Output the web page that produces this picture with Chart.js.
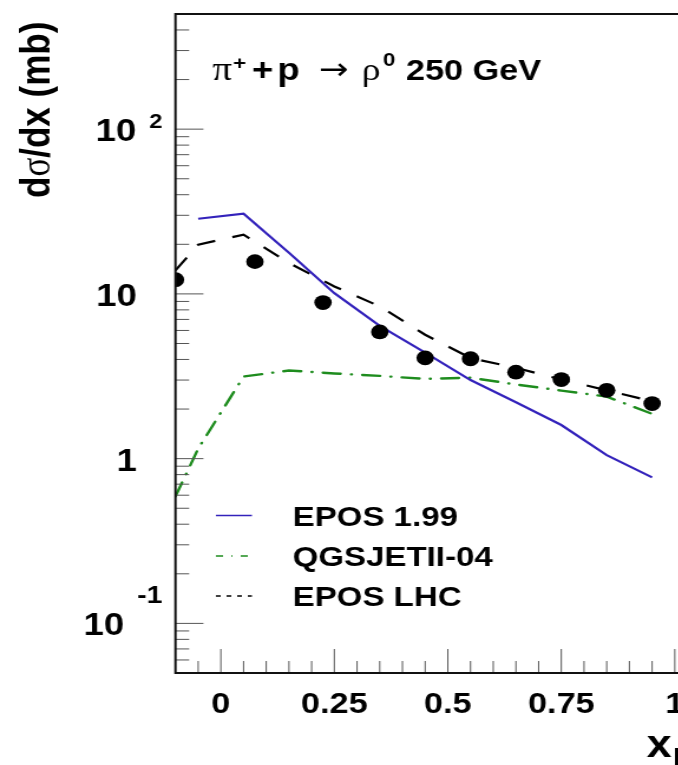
<!DOCTYPE html>
<html><head><meta charset="utf-8">
<script src="https://cdn.jsdelivr.net/npm/chart.js@4.4.1/dist/chart.umd.min.js"></script>
<style>
html,body{margin:0;padding:0;background:#fff;overflow:hidden;width:678px;height:765px;}
#wrap{position:absolute;left:0;top:0;width:600px;height:765px;transform:scaleX(1.18);transform-origin:0 0;}
canvas{display:block;}
</style></head><body>
<div id="wrap"><canvas id="c" width="600" height="765"></canvas></div>
<script>
// ---- data ----
const seriesNames = ['EPOS 1.99', 'QGSJETII-04', 'EPOS LHC'];
const modelX   = [-0.1, -0.05, 0.05, 0.15, 0.25, 0.35, 0.45, 0.55, 0.65, 0.75, 0.85, 0.95];
const epos199  = [null, 28.6, 30.7, 17.8, 10.1, 6.4, 4.4, 3.0, 2.2, 1.6, 1.05, 0.77];
const qgsjet   = [0.59, 1.15, 3.15, 3.43, 3.29, 3.18, 3.05, 3.1, 2.82, 2.59, 2.38, 1.87];
const eposLHC  = [13.9, 19.9, 22.9, 15.4, 11.1, 8.4, 5.65, 4.08, 3.56, 3.02, 2.6, 2.23];
const dataX    = [-0.1, 0.075, 0.225, 0.35, 0.45, 0.55, 0.65, 0.75, 0.85, 0.95];
const dataY    = [12.2, 15.7, 8.86, 5.88, 4.09, 4.04, 3.35, 3.02, 2.60, 2.16];
const xTickValues = [0, 0.25, 0.5, 0.75, 1];
const xTickLabels = ['0', '0.25', '0.5', '0.75', '1'];
const yTickValues = [100, 10, 1, 0.1];
const yTickBase   = ['10', '10', '1', '10'];
const yTickExp    = ['2', '', '', '-1'];
const yTitle = ['d', 'σ', '/dx (mb)'];
const xTitle = ['x', 'F'];
const annotation = ['π', '+', '+', 'p', '→', 'ρ', '0', '250 GeV'];

// ---- helpers ----
const SANS = '"Liberation Sans", Arial, Helvetica, sans-serif';
const SERIF = '"Liberation Serif", "Times New Roman", serif';
const xy = (xs, ys) => xs.map((x, i) => ({x: x, y: ys[i]})).filter(p => p.y != null);
const xMinor = []; for (let k = -1; k <= 21; k++) { const v = +(k * 0.05).toFixed(2); if (!xTickValues.includes(v)) xMinor.push(v); }
const yMinor = []; [0.01, 0.1, 1, 10, 100].forEach(d => { for (let m = 2; m <= 9; m++) yMinor.push(+(m * d).toPrecision(3)); });

const colors = ['#3322bb', '#1e8c1e', '#000000'];
const legendDash = [[], [6, 7, 1, 7], [4, 5]];

const rootPlugin = {
  id: 'rootStyle',
  afterDatasetsDraw(chart) {
    const {ctx, chartArea: a, scales: {x, y}} = chart;
    ctx.save();
    const seg = (x1, y1, x2, y2) => { ctx.beginPath(); ctx.moveTo(x1, y1); ctx.lineTo(x2, y2); ctx.stroke(); };
    // ticks (inward)
    ctx.strokeStyle = '#555'; ctx.lineWidth = 1;
    yMinor.forEach(v => { const p = y.getPixelForValue(v); if (p > a.top + 1 && p < a.bottom - 1) seg(a.left, p, a.left + 11.6, p); });
    yTickValues.forEach(v => { const p = y.getPixelForValue(v); seg(a.left, p, a.left + 23.7, p); });
    xMinor.forEach(v => { const p = x.getPixelForValue(v); if (p > a.left + 1 && p < a.right - 1) seg(p, a.bottom, p, a.bottom - 12); });
    xTickValues.forEach(v => { const p = x.getPixelForValue(v); seg(p, a.bottom, p, a.bottom - 24); });
    // frame
    ctx.strokeStyle = '#111'; ctx.lineWidth = 2;
    ctx.strokeRect(a.left, a.top, a.right - a.left, a.bottom - a.top);
    ctx.restore();
  },
  afterDraw(chart) {
    const {ctx, scales: {x, y}} = chart;
    ctx.save();
    ctx.fillStyle = '#000';
    ctx.textBaseline = 'alphabetic';
    // x tick labels
    ctx.font = 'bold 29px ' + SANS; ctx.textAlign = 'center';
    xTickValues.forEach((v, i) => ctx.fillText(xTickLabels[i], x.getPixelForValue(v), 713));
    // y tick labels
    yTickValues.forEach((v, i) => {
      const p = y.getPixelForValue(v);
      const e = yTickExp[i];
      if (!e) {
        ctx.font = 'bold 31px ' + SANS; ctx.textAlign = 'right';
        ctx.fillText(yTickBase[i], 116, p + 12);
      } else {
        const neg = e.startsWith('-');
        ctx.font = 'bold ' + (neg ? 24 : 20) + 'px ' + SANS; ctx.textAlign = 'right';
        const w = ctx.measureText(e).width;
        ctx.fillText(e, 137.5, neg ? p - 20 : p - 1);
        ctx.font = 'bold 31px ' + SANS;
        ctx.fillText(yTickBase[i], 137.5 - w - 11, p + 12);
      }
    });
    // y title (rotated)
    ctx.save();
    ctx.translate(42.4, 198); ctx.rotate(-Math.PI / 2); ctx.textAlign = 'left';
    let cx = 0;
    const yFonts = ['bold 35px ' + SANS, '35px ' + SERIF, 'bold 35px ' + SANS];
    yTitle.forEach((t, i) => { ctx.font = yFonts[i]; ctx.fillText(t, cx, 0); cx += ctx.measureText(t).width; });
    ctx.restore();
    // x title
    ctx.textAlign = 'left';
    ctx.font = 'bold 38px ' + SANS; ctx.fillText(xTitle[0], 548, 757);
    const xw = ctx.measureText(xTitle[0]).width;
    ctx.font = 'bold 26px ' + SANS; ctx.fillText(xTitle[1], 548 + xw + 1, 766);
    // annotation
    const annPos = [[180, 80, '33px ' + SERIF], [197.5, 69, 'bold 19px ' + SANS], [213.5, 80, 'bold 31px ' + SANS],
                    [235, 80, 'bold 31px ' + SANS], [270, 79, '30px "DejaVu Sans", sans-serif'], [306.5, 80, '32px ' + SERIF],
                    [324.5, 66, 'bold 19px ' + SANS], [344, 80, 'bold 29px ' + SANS]];
    annotation.forEach((t, i) => { ctx.font = annPos[i][2]; ctx.fillText(t, annPos[i][0], annPos[i][1]); });
    // legend
    const lgY = [515.5, 556, 596];
    seriesNames.forEach((n, i) => {
      ctx.save();
      ctx.strokeStyle = colors[i]; ctx.lineWidth = 1.5; ctx.setLineDash(legendDash[i]);
      ctx.beginPath(); ctx.moveTo(183, lgY[i]); ctx.lineTo(213.5, lgY[i]); ctx.stroke();
      ctx.restore();
      ctx.font = 'bold 28px ' + SANS;
      ctx.fillText(n, 248, lgY[i] + 10);
    });
    ctx.restore();
  }
};

new Chart(document.getElementById('c'), {
  type: 'line',
  data: {
    datasets: [
      {label: 'data', data: xy(dataX, dataY), showLine: false, pointRadius: 7.4, pointHoverRadius: 7.4,
       pointBackgroundColor: '#000', pointBorderColor: '#000', pointBorderWidth: 0, order: 0, clip: 0},
      {label: seriesNames[0], data: xy(modelX, epos199), borderColor: colors[0], borderWidth: 2.2,
       pointRadius: 0, tension: 0, fill: false, order: 1, clip: 0},
      {label: seriesNames[1], data: xy(modelX, qgsjet), borderColor: colors[1], borderWidth: 2.4,
       borderDash: [15, 9, 0.5, 9], borderCapStyle: 'round', pointRadius: 0, tension: 0, fill: false, order: 2, clip: 0},
      {label: seriesNames[2], data: xy(modelX, eposLHC), borderColor: colors[2], borderWidth: 2.2,
       borderDash: [16, 15], pointRadius: 0, tension: 0, fill: false, order: 3, clip: 0}
    ]
  },
  options: {
    responsive: false, animation: false, devicePixelRatio: 1,
    layout: {padding: {left: 148.7, right: 8.9, top: 14, bottom: 92}},
    plugins: {legend: {display: false}, tooltip: {enabled: false}, title: {display: false}},
    scales: {
      x: {type: 'linear', display: false, min: -0.1, max: 1.05},
      y: {type: 'logarithmic', display: false, min: 0.05, max: 500}
    }
  },
  plugins: [rootPlugin]
});
</script>
</body></html>
